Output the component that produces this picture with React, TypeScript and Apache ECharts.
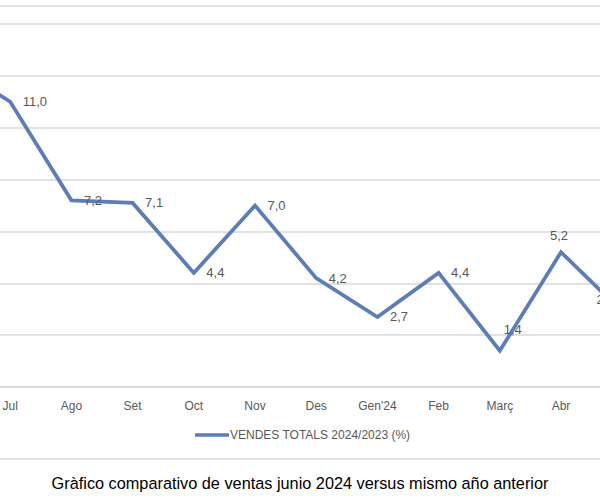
import React, { useEffect, useRef } from "react";
import * as echarts from "echarts";

const categories = ["Jun", "Jul", "Ago", "Set", "Oct", "Nov", "Des", "Gen'24", "Feb", "Març", "Abr", "Mai"];
const salesGrowth = [12.5, 11.0, 7.2, 7.1, 4.4, 7.0, 4.2, 2.7, 4.4, 1.4, 5.2, 2.9];
const seriesName = "VENDES TOTALS 2024/2023 (%)";
const caption = "Gràfico comparativo de ventas junio 2024 versus mismo año anterior";
const hiddenAxisLabels = ["Jun", "Mai"];
const yMin = 0;
const yMax = 14;
const yStep = 2;

const OFFSET = 100; // chart div starts 100px left of the viewport

export default function App() {
  const ref = useRef<HTMLDivElement>(null);

  useEffect(() => {
    if (!ref.current) return;
    const chart = echarts.init(ref.current, null, { renderer: "svg" });
    const fmt = (v: number) => v.toFixed(1).replace(".", ",");
    const labelFor = (i: number) => {
      const base: any = {
        show: true,
        position: "right",
        distance: 12,
        fontSize: 13,
        color: "#595959",
        fontFamily: "Liberation Sans, Arial, sans-serif",
        formatter: (p: any) => fmt(p.value),
      };
      if (categories[i] === "Jun") return { ...base, show: false };
      if (categories[i] === "Març") return { ...base, position: "top", distance: 14, offset: [13, 0] };
      if (categories[i] === "Abr") return { ...base, position: "top", distance: 10, offset: [-2, 0] };
      if (categories[i] === "Mai") return { ...base, position: "left", distance: 7, offset: [0, -12] };
      return base;
    };
    const data = salesGrowth.map((v, i) => ({ value: v, label: labelFor(i) }));

    chart.setOption({
      animation: false,
      backgroundColor: "#ffffff",
      grid: { left: OFFSET - 81.6, top: 24, width: 734.4, height: 363, containLabel: false },
      xAxis: {
        type: "category",
        data: categories,
        boundaryGap: true,
        axisLine: { show: true, lineStyle: { color: "#d9d9d9", width: 1.5 } },
        axisTick: { show: false },
        axisLabel: {
          color: "#595959",
          fontSize: 12,
          margin: 13,
          fontFamily: "Liberation Sans, Arial, sans-serif",
          formatter: (v: string) => (hiddenAxisLabels.includes(v) ? "" : v),
        },
      },
      yAxis: {
        type: "value",
        min: yMin,
        max: yMax,
        interval: yStep,
        axisLabel: { show: false },
        axisLine: { show: false },
        axisTick: { show: false },
        splitLine: { lineStyle: { color: "#d9d9d9", width: 1.5 } },
      },
      legend: {
        data: [seriesName],
        left: OFFSET + 195,
        top: 429,
        icon: "rect",
        itemWidth: 34,
        itemHeight: 3.5,
        padding: 0,
        textStyle: { color: "#595959", fontSize: 12, fontFamily: "Liberation Sans, Arial, sans-serif", padding: [0, 0, 0, -4] },
      },
      series: [
        {
          name: seriesName,
          type: "line",
          data,
          symbol: "circle",
          symbolSize: 1,
          showSymbol: true,
          showAllSymbol: true,
          smooth: false,
          clip: false,
          lineStyle: { color: "#5b7db9", width: 3.75, join: "miter" },
          itemStyle: { color: "#5b7db9" },
        },
      ],
      graphic: [
        { type: "line", shape: { x1: OFFSET, y1: 6, x2: OFFSET + 600, y2: 6 }, style: { stroke: "#d9d9d9", lineWidth: 1.5 } },
        { type: "line", shape: { x1: OFFSET, y1: 459, x2: OFFSET + 600, y2: 459 }, style: { stroke: "#d9d9d9", lineWidth: 1.5 } },
        {
          type: "text",
          x: OFFSET + 300,
          y: 483,
          style: {
            text: caption,
            textAlign: "center",
            textVerticalAlign: "middle",
            fontSize: 16.3,
            fontFamily: "Liberation Sans, Arial, sans-serif",
            fill: "#000000",
          },
        },
      ],
    });
    return () => chart.dispose();
  }, []);

  return (
    <div style={{ position: "fixed", left: 0, top: 0, width: 600, height: 500, overflow: "hidden", background: "#fff" }}>
      <div ref={ref} style={{ position: "absolute", left: -OFFSET, top: 0, width: 800, height: 500 }} />
    </div>
  );
}
